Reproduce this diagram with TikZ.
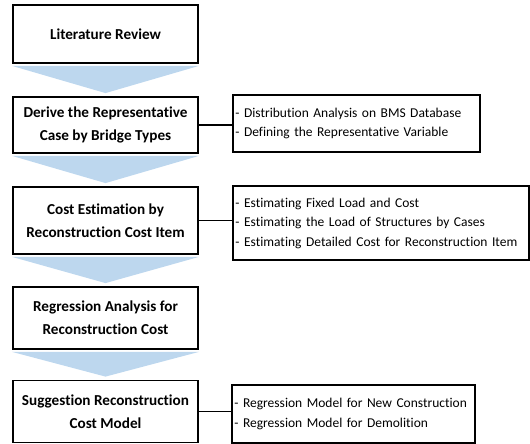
\documentclass[tikz,border=0pt]{standalone}
\usepackage{fontspec}
\setmainfont{Carlito}[Ligatures={NoCommon}]
\definecolor{arrowblue}{RGB}{189,215,238}
\begin{document}
\begin{tikzpicture}[x=1pt,y=-1pt,
  mainbox/.style={draw=black,line width=1.8pt,fill=white,minimum width=185pt,align=center,
    font=\fontsize{15.2}{23}\selectfont\bfseries,inner sep=0pt},
  sidebox/.style={draw=black,line width=1.8pt,fill=white,align=left,
    font=\fontsize{13.5}{19.5}\selectfont,inner xsep=2.5pt,inner ysep=0pt,anchor=west},
  link/.style={line width=1.8pt},
  funnel/.style={fill=arrowblue,draw=none}]
\useasboundingbox (0,0) rectangle (530,444);
\node[mainbox,minimum height=58pt] (b1) at (105.5,34) {Literature Review};
\node[mainbox,minimum height=56pt] (b2) at (105.5,125) {Derive the Representative\\Case by Bridge Types};
\node[mainbox,minimum height=67pt] (b3) at (105.5,220.5) {Cost Estimation by\\Reconstruction Cost Item};
\node[mainbox,minimum height=62pt] (b4) at (105.5,318) {Regression Analysis for\\Reconstruction Cost};
\node[mainbox,minimum height=62pt] (b5) at (105.5,411.5) {Suggestion Reconstruction\\Cost Model};
\node[sidebox,minimum width=247pt,minimum height=57pt,text width=242pt] (sA) at (232,123.5)
  {- Distribution Analysis on BMS Database\\- Defining the Representative Variable};
\node[sidebox,minimum width=296pt,minimum height=74pt,text width=291pt] (sB) at (232,223)
  {- Estimating Fixed Load and Cost\\- Estimating the Load of Structures by Cases\\- Estimating Detailed Cost for Reconstruction Item};
\node[sidebox,minimum width=243pt,minimum height=58pt,text width=238pt] (sC) at (231,414)
  {- Regression Model for New Construction\\- Regression Model for Demolition};
\fill[funnel] ([yshift=-2pt]b1.south west) -- ([yshift=-2pt]b1.south east) -- ([yshift=3pt]b2.north) -- cycle;
\fill[funnel] ([yshift=-2pt]b2.south west) -- ([yshift=-2pt]b2.south east) -- ([yshift=3pt]b3.north) -- cycle;
\fill[funnel] ([yshift=-2pt]b3.south west) -- ([yshift=-2pt]b3.south east) -- ([yshift=3pt]b4.north) -- cycle;
\fill[funnel] ([yshift=-2pt]b4.south west) -- ([yshift=-2pt]b4.south east) -- ([yshift=3pt]b5.north) -- cycle;
\draw[link] (b2.east) -- (b2.east -| sA.west);
\draw[link] (b3.east) -- (b3.east -| sB.west);
\draw[link] (b5.east) -- (b5.east -| sC.west);
\end{tikzpicture}
\end{document}
